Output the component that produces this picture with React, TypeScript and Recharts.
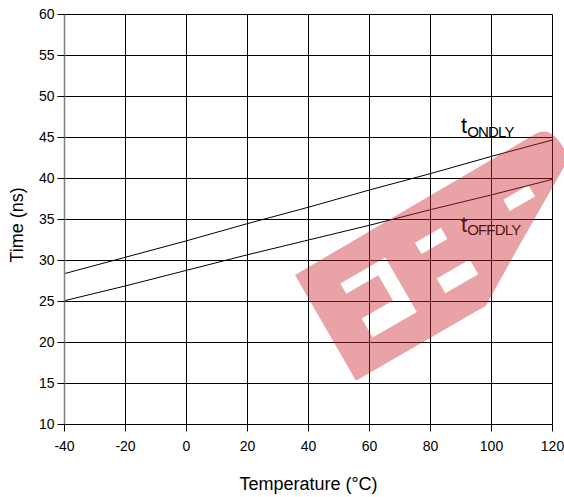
import React from "react";
import {
  LineChart,
  Line,
  XAxis,
  YAxis,
  CartesianGrid,
  ReferenceDot,
} from "recharts";

// ---- data ----
const temperatures = [-40, -20, 0, 20, 40, 60, 80, 100, 120];
const tOnDly = [28.4, 30.4, 32.4, 34.5, 36.5, 38.6, 40.6, 42.7, 44.7];
const tOffDly = [25.1, 26.9, 28.8, 30.7, 32.5, 34.3, 36.2, 38.0, 39.9];

const xTicks = [-40, -20, 0, 20, 40, 60, 80, 100, 120];
const yTicks = [10, 15, 20, 25, 30, 35, 40, 45, 50, 55, 60];

const seriesLabels = [
  { main: "t", sub: "ONDLY", x: 90, y: 45.5 },
  { main: "t", sub: "OFFDLY", x: 90, y: 33.5 },
];

const rows = temperatures.map((t, i) => ({
  temp: t,
  on: tOnDly[i],
  off: tOffDly[i],
}));

const FONT = "'Liberation Sans', Arial, sans-serif";

const SeriesTag = (props: any) => {
  const { cx, cy, main, sub } = props;
  if (cx == null || cy == null) return null;
  return (
    <text x={cx} y={cy} fontFamily={FONT} fill="#000">
      <tspan fontSize={22}>{main}</tspan>
      <tspan fontSize={15} dy={3.5} letterSpacing={-0.8}>
        {sub}
      </tspan>
    </text>
  );
};

const YTitle = () => (
  <text
    x={17}
    y={225}
    transform="rotate(-90, 17, 225)"
    textAnchor="middle"
    dominantBaseline="central"
    fontFamily={FONT}
    fontSize={18}
    fill="#000"
  >
    Time (ns)
  </text>
);

const XTitle = () => (
  <text
    x={308.5}
    y={490}
    textAnchor="middle"
    fontFamily={FONT}
    fontSize={18}
    fill="#000"
  >
    Temperature (°C)
  </text>
);

// watermark in its own rotated frame
const outer = "M0,0 L280,-2 Q297,-1 296,26 L287,41 L205,89 L150,122 L0,122 Z";
const holes = [
  "M35,30 L87,30 L87,93 L36,93 L36,71 L72,71 L72,42 L35,42 Z",
  "M120,32 L150,32 L150,45 L120,45 Z",
  "M121,74 L159,74 L159,91 L121,91 Z",
  "M218,39 L247,39 L247,52 L218,52 Z",
];

export default function App() {
  return (
    <div
      style={{
        position: "absolute",
        left: 0,
        top: 0,
        width: 564,
        height: 497,
        background: "#fff",
      }}
    >
      <LineChart
        width={564}
        height={497}
        data={rows}
        margin={{ top: 14.5, right: 11.5, bottom: 0, left: 0 }}
        style={{ fontFamily: FONT }}
      >
        <CartesianGrid stroke="#000" strokeWidth={1} />
        <XAxis
          dataKey="temp"
          type="number"
          domain={[-40, 120]}
          ticks={xTicks}
          interval={0}
          height={72.5}
          tickSize={7}
          tickMargin={10}
          axisLine={{ stroke: "#000" }}
          tickLine={{ stroke: "#000" }}
          tick={{ fill: "#000", fontSize: 14, fontFamily: FONT }}
          label={<XTitle />}
        />
        <YAxis
          type="number"
          domain={[10, 60]}
          ticks={yTicks}
          interval={0}
          width={64.5}
          tickSize={7}
          tickMargin={3}
          axisLine={{ stroke: "#808080", strokeWidth: 1.5 }}
          tickLine={{ stroke: "#000" }}
          tick={{ fill: "#000", fontSize: 14, fontFamily: FONT }}
          label={<YTitle />}
        />
        <Line
          type="linear"
          dataKey="on"
          stroke="#000"
          strokeWidth={1}
          dot={false}
          isAnimationActive={false}
        />
        <Line
          type="linear"
          dataKey="off"
          stroke="#000"
          strokeWidth={1}
          dot={false}
          isAnimationActive={false}
        />
        {seriesLabels.map((l) => (
          <ReferenceDot
            key={l.sub}
            x={l.x}
            y={l.y}
            r={0}
            ifOverflow="visible"
            shape={(p: any) => <SeriesTag {...p} main={l.main} sub={l.sub} />}
          />
        ))}
      </LineChart>
      <svg
        width={564}
        height={497}
        style={{ position: "absolute", left: 0, top: 0, pointerEvents: "none" }}
      >
        <g transform="translate(295,275) rotate(-30)">
          <path
            d={[outer, ...holes].join(" ")}
            fillRule="evenodd"
            fill="rgba(204,41,51,0.43)"
          />
        </g>
      </svg>
    </div>
  );
}
